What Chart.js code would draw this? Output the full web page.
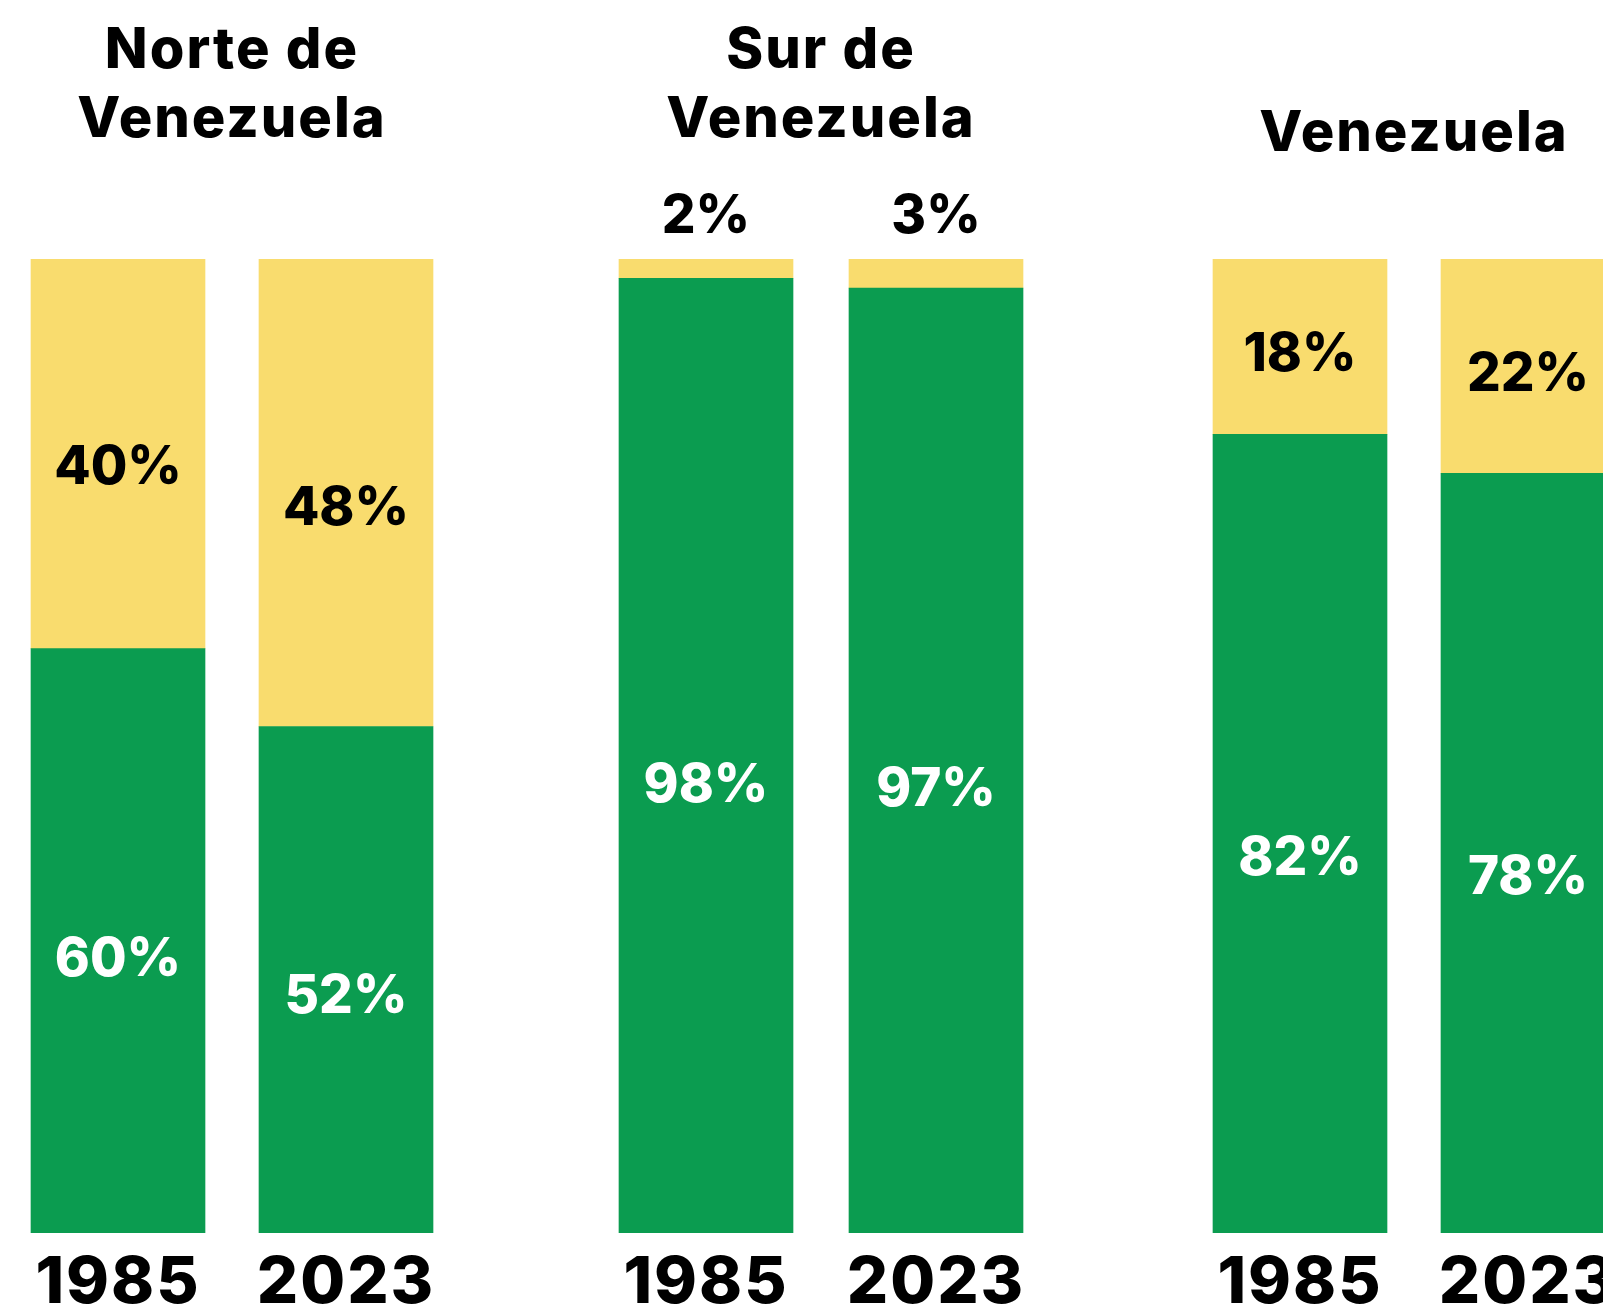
<!DOCTYPE html>
<html lang="es">
<head>
<meta charset="utf-8">
<title>Venezuela 1985 - 2023</title>
<script src="https://cdn.jsdelivr.net/npm/chart.js@4.4.1/dist/chart.umd.min.js"></script>
<style>
  html, body { margin: 0; padding: 0; background: #fff; }
  .board { position: relative; width: 1603px; height: 1309px; overflow: hidden; }
  .board canvas { position: absolute; top: 0; }
</style>
</head>
<body>
<div class="board">
  <canvas id="norte"></canvas>
  <canvas id="sur"></canvas>
  <canvas id="pais"></canvas>
</div>
<script>
// data
const years = ["1985", "2023"];

const norteTitle = ["Norte de", "Venezuela"];
const norteGreen = [60, 52];
const norteYellow = [40, 48];

const surTitle = ["Sur de", "Venezuela"];
const surGreen = [98, 97];
const surYellow = [2, 3];

const paisTitle = "Venezuela";
const paisGreen = [82, 78];
const paisYellow = [18, 22];

const GREEN = "#0b9c50";
const YELLOW = "#f9dc6e";
const FONT = "Inter";
const LABEL_SIZE = 53;

// titles and years are a bit wider in the original font
const wideText = {
  id: "wideText",
  beforeDraw(chart) {
    chart.ctx.letterSpacing = "2px";
  },
  beforeDatasetsDraw(chart) {
    chart.ctx.letterSpacing = "0px";
  }
};

// percent labels, a bit under the middle of each segment; thin segments get it above the bar
const segmentLabels = {
  id: "segmentLabels",
  afterDatasetsDraw(chart) {
    const ctx = chart.ctx;
    ctx.save();
    ctx.font = `800 ${LABEL_SIZE}px ${FONT}`;
    ctx.textAlign = "center";
    ctx.textBaseline = "alphabetic";
    chart.data.datasets.forEach((ds, i) => {
      chart.getDatasetMeta(i).data.forEach((bar, j) => {
        const value = ds.data[j];
        const top = Math.min(bar.y, bar.base);
        const bottom = Math.max(bar.y, bar.base);
        let mid;
        if (value < 5) {
          mid = top - 45;
          ctx.fillStyle = "#000";
        } else {
          mid = (top + bottom) / 2 + (bottom - top) * 0.028;
          ctx.fillStyle = ds.labelColor;
        }
        // place by cap centre
        ctx.fillText(value + "%", bar.x, mid + LABEL_SIZE * 0.364);
      });
    });
    ctx.restore();
  }
};

function makeChart(id, left, width, title, green, yellow, titlePad) {
  const canvas = document.getElementById(id);
  canvas.width = width;
  canvas.height = 1334;
  canvas.style.left = left + "px";

  return new Chart(canvas.getContext("2d"), {
    type: "bar",
    data: {
      labels: years,
      datasets: [
        { data: green, backgroundColor: GREEN, labelColor: "#fff", barThickness: 174 },
        { data: yellow, backgroundColor: YELLOW, labelColor: "#000", barThickness: 174 },
      ],
    },
    options: {
      responsive: false,
      animation: false,
      layout: { padding: 0 },
      plugins: {
        legend: { display: false },
        tooltip: { enabled: false },
        title: {
          display: true,
          text: title,
          color: "#000",
          font: { family: FONT, size: 56, weight: "800", lineHeight: 1.23 },
          padding: titlePad,
        },
      },
      scales: {
        x: {
          stacked: true,
          grid: { display: false, drawTicks: false },
          border: { display: false },
          ticks: {
            color: "#000",
            padding: 18,
            font: { family: FONT, size: 65, weight: "800", lineHeight: 1 },
          },
        },
        y: { stacked: true, display: false, min: 0, max: 100 },
      },
    },
    plugins: [wideText, segmentLabels],
  });
}

document.fonts.load(`800 56px ${FONT}`).finally(() => {
  makeChart("norte", 4, 456, norteTitle, norteGreen, norteYellow, { top: 16.6, bottom: 104.6 });
  makeChart("sur", 591, 460, surTitle, surGreen, surYellow, { top: 16.6, bottom: 104.6 });
  makeChart("pais", 1186, 456, paisTitle, paisGreen, paisYellow, { top: 100, bottom: 90.1 });
});
</script>
</body>
</html>
